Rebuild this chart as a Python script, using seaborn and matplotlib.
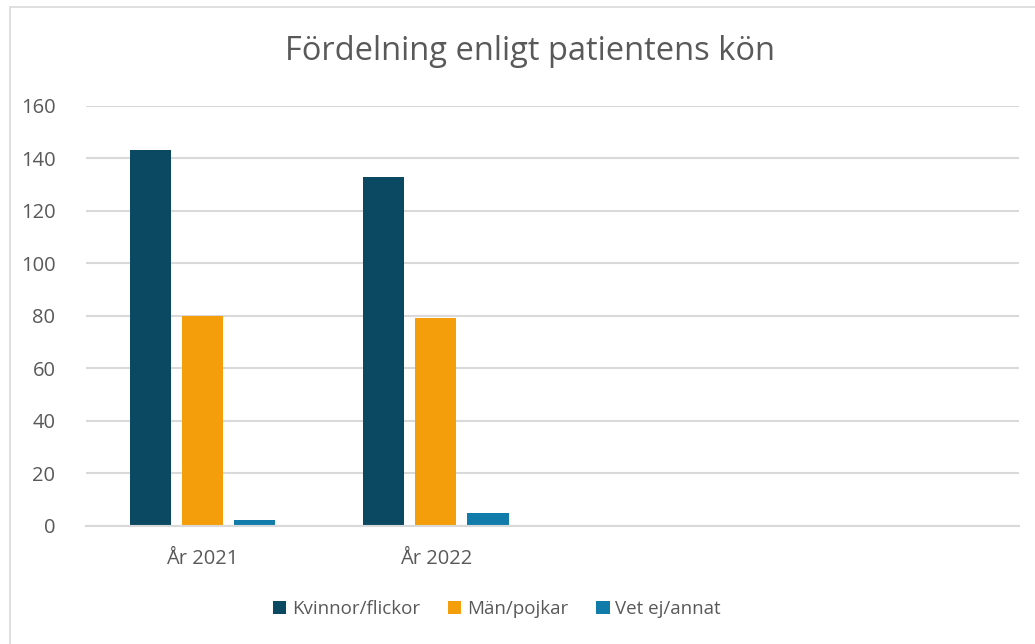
import matplotlib
matplotlib.use("Agg")
import matplotlib.pyplot as plt
import pandas as pd
import seaborn as sns
from matplotlib.patches import Rectangle

years = ["År 2021", "År 2022"]
groups = ["Kvinnor/flickor", "Män/pojkar", "Vet ej/annat"]
kvinnor = [143, 133]
man = [80, 79]
vet_ej = [2, 5]
colors = ["#0B4963", "#F59E0B", "#117CA9"]
yticks = [0, 20, 40, 60, 80, 100, 120, 140, 160]


def build_frame() -> pd.DataFrame:
    rows = []
    for name, values in zip(groups, [kvinnor, man, vet_ej]):
        for year, value in zip(years, values):
            rows.append({"year": year, "group": name, "count": value})
    return pd.DataFrame(rows)


def main() -> None:
    sns.set_theme(style="white")
    plt.rcParams["font.family"] = ["Open Sans", "DejaVu Sans"]
    text_color = "#595959"
    grid_color = "#D9D9D9"

    df = build_frame()

    fig = plt.figure(figsize=(10.35, 6.44), dpi=100)
    fig.patches.append(Rectangle((10 / 1035, -0.1), 1.2, 1 - 7 / 644 + 0.1,
                                 transform=fig.transFigure, fill=False,
                                 edgecolor="#D9D9D9", linewidth=1.2))
    ax = fig.add_axes([86 / 1035, 1 - 525.7 / 644, (1019 - 86) / 1035, 420 / 644])

    sns.barplot(data=df, x="year", y="count", hue="group", order=years, hue_order=groups,
                palette=colors, width=0.67, gap=0.21, saturation=1, linewidth=0,
                ax=ax, legend=True)

    ax.set_xlim(-0.5, 3.5)
    ax.set_ylim(0, 160)
    ax.set_yticks(yticks)
    ax.yaxis.grid(True, color=grid_color, linewidth=1.5)
    ax.set_axisbelow(True)
    for side in ["top", "right", "left"]:
        ax.spines[side].set_visible(False)
    ax.spines["bottom"].set_color(grid_color)
    ax.spines["bottom"].set_linewidth(1.5)
    ax.tick_params(axis="both", length=0, labelsize=14.5, colors=text_color)
    ax.tick_params(axis="x", pad=17)
    ax.tick_params(axis="y", pad=22)
    ax.set_xlabel("")
    ax.set_ylabel("")

    fig.text(530 / 1035, 1 - 52 / 644, "Fördelning enligt patientens kön", ha="center",
             va="center", fontsize=23.5, color=text_color)

    handles, labels = ax.get_legend_handles_labels()
    ax.legend(handles, labels, loc="center", bbox_to_anchor=(497 / 1035, 1 - 609 / 644),
              bbox_transform=fig.transFigure, ncol=3, frameon=False, fontsize=13.5,
              labelcolor=text_color, handlelength=0.7, handleheight=0.7,
              handletextpad=0.3, columnspacing=1.5)

    fig.savefig("out.png", dpi=100)
    plt.close(fig)


if __name__ == "__main__":
    main()
